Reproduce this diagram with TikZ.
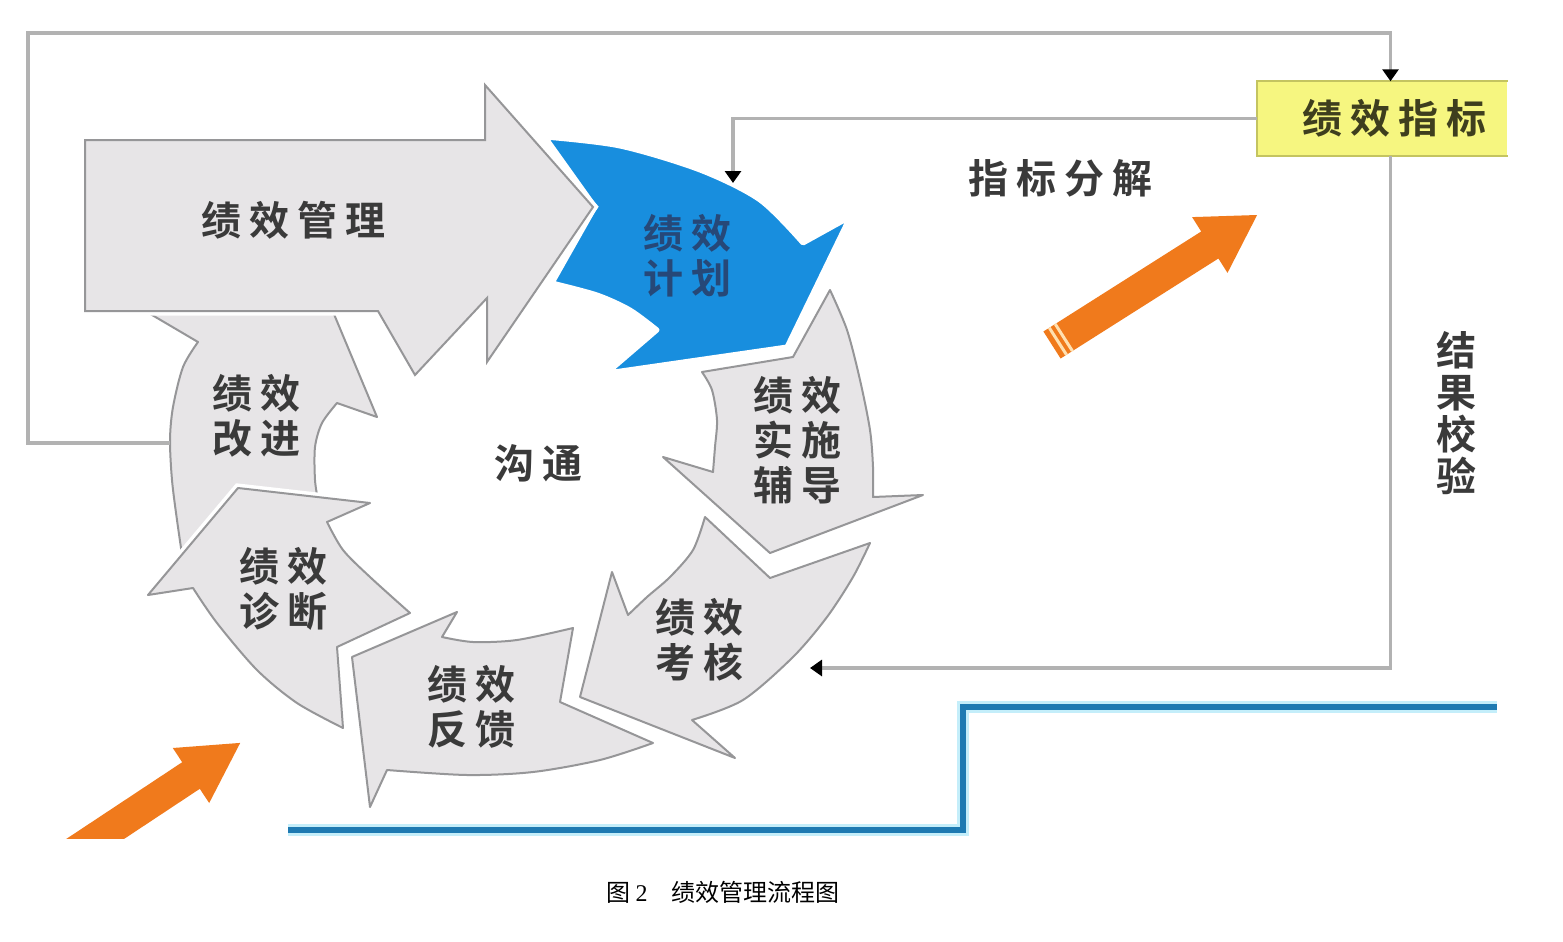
\documentclass[tikz,border=0pt]{standalone}
\usepackage{fontspec}
\usetikzlibrary{arrows.meta}
\newfontfamily\cjkbold[LetterSpace=20]{Noto Sans CJK SC Bold}
\newfontfamily\cjkplain{Noto Sans CJK SC}
\newfontfamily\capserif{Liberation Serif}

\definecolor{ringfill}{RGB}{231,229,231}
\definecolor{ringline}{RGB}{150,150,152}
\definecolor{planblue}{RGB}{24,142,222}
\definecolor{plantext}{RGB}{38,72,120}
\definecolor{lbltext}{RGB}{58,58,58}
\definecolor{linkgray}{RGB}{178,178,178}
\definecolor{kpifill}{RGB}{246,246,128}
\definecolor{kpiline}{RGB}{196,196,96}
\definecolor{kpitext}{RGB}{62,62,30}
\definecolor{arroworange}{RGB}{240,122,28}
\definecolor{stripeorange}{RGB}{255,224,176}
\definecolor{stepblue}{RGB}{30,122,178}
\definecolor{stepglow}{RGB}{196,238,250}

\tikzset{every picture/.style={line width=0.75pt}}
\tikzset{
  ringarrow/.style={fill=ringfill,draw=ringline,line width=1pt,line join=round,
    preaction={draw=white,line width=4.5pt}},
  planarrow/.style={fill=planblue,draw=white,line width=2.5pt,line join=round},
  lbl/.style={inner sep=0pt,align=center,text=lbltext,
    font=\cjkbold\fontsize{20}{22.5}\selectfont},
  link/.style={draw=linkgray,line width=1.6pt,
    -{Triangle[width=8pt,length=6pt,color=black]}},
  orangearrow/.style={fill=arroworange},
  stripe/.style={draw=stripeorange,line width=1.5pt},
  stepline/.style={draw=stepblue,line width=3pt,preaction={draw=stepglow,line width=6pt}},
  kpibox/.style={fill=kpifill,inner sep=0pt,
    minimum width=124.5pt,minimum height=36.5pt,text=kpitext,
    font=\cjkbold\fontsize{20}{22.5}\selectfont},
  kpiedge/.style={draw=kpiline,line width=1.2pt}
}

\begin{document}
\begin{tikzpicture}[x=0.5pt,y=0.5pt,yscale=-1,xscale=1]
%set diagram size 1563 x 942
\useasboundingbox (0,0) rectangle (1563,942);
\fill[white] (0,0) rectangle (1563,942);

%Step Line [id:step]
\draw[stepline] (288,830) -- (963,830) -- (963,707) -- (1497,707);

%Curve Arrow [id:impr]
\draw[ringarrow] (303,240) -- (147,312) -- (198,342)
  -- plot[smooth] coordinates {(198,342) (183,367) (173,407) (170,440) (172,480) (177,520) (185,575)}
  -- (262,518) -- (318,500)
  -- plot[smooth] coordinates {(318,500) (315,480) (315,447) (322,423) (337,403)}
  -- (377,417) -- cycle;
%Curve Arrow [id:diag]
\draw[ringarrow] (238,488) -- (148,595) -- (193,588)
  -- plot[smooth] coordinates {(193,588) (217,623) (257,670) (297,703) (343,728)}
  -- (337,647) -- (410,613)
  -- plot[smooth] coordinates {(410,613) (370,577) (343,550) (327,522)}
  -- (370,503) -- cycle;
%Curve Arrow [id:fb]
\draw[ringarrow] (352,657) -- (457,612) -- (442,637)
  -- plot[smooth] coordinates {(442,637) (473,642) (517,640) (573,628)}
  -- (560,702) -- (653,743)
  -- plot[smooth] coordinates {(653,743) (600,760) (533,772) (467,775) (387,770)}
  -- (370,807) -- cycle;
%Curve Arrow [id:exam]
\draw[ringarrow] (580,697) -- (612,572) -- (628,615)
  -- plot[smooth] coordinates {(628,615) (647,597) (670,577) (693,550) (705,517)}
  -- (770,578) -- (870,543)
  -- plot[smooth] coordinates {(870,543) (853,577) (827,617) (793,657) (743,700) (692,720)}
  -- (735,758) -- cycle;
%Curve Arrow [id:exec]
\draw[ringarrow] (770,553) -- (923,495) -- (873,497)
  -- plot[smooth] coordinates {(873,497) (873,467) (870,430) (860,380) (847,330) (830,290)}
  -- (793,357) -- (702,372)
  -- plot[smooth] coordinates {(702,372) (712,390) (717,420) (715,447) (713,472)}
  -- (663,457) -- cycle;
%Curve Arrow [id:plan]
\draw[planarrow] (545,137) -- (595,207) -- (552,283)
  -- plot[smooth] coordinates {(552,283) (597,295) (630,310) (657,330)}
  -- (607,373) -- (787,347) -- (850,217) -- (803,243)
  -- plot[smooth] coordinates {(803,243) (760,200) (700,170) (620,146) (545,137)}
  -- cycle;
%Straight Arrow [id:mgmt]
\draw[ringarrow,line join=miter] (85,140) -- (485,140) -- (485,85) -- (593,207) -- (487,362)
  -- (487,298) -- (415,375) -- (378,311) -- (85,311) -- cycle;

%Block Arrow [id:orange1]
\fill[orangearrow] (1043.4,331.5) -- (1201.2,231.5) -- (1192.1,217.1) -- (1257.1,215)
  -- (1227.5,272.9) -- (1218.4,258.5) -- (1060.6,358.5) -- cycle;
\draw[stripe] (1066.5,354.8) -- (1049.3,327.8);
\draw[stripe] (1072.4,351.0) -- (1055.2,324.0);
%Block Arrow [id:orange2]
\begin{scope}
\clip (0,0) rectangle (1563,838);
\fill[orangearrow] (39.6,856.6) -- (182.2,762.2) -- (172.8,748.0) -- (240.2,742.9)
  -- (209.2,803.0) -- (199.8,788.8) -- (57.2,883.2) -- cycle;
\end{scope}

% Text Node
\draw (293,220) node [lbl] (mgmtlbl) {绩效管理};
% Text Node
\draw (687,256) node [lbl,text=plantext] (planlbl) {绩效\\计划};
% Text Node
\draw (797,440) node [lbl] (execlbl) {绩效\\实施\\辅导};
% Text Node
\draw (699,640) node [lbl] (examlbl) {绩效\\考核};
% Text Node
\draw (471,707) node [lbl] (fblbl) {绩效\\反馈};
% Text Node
\draw (283,589) node [lbl] (diaglbl) {绩效\\诊断};
% Text Node
\draw (256,416) node [lbl] (impllbl) {绩效\\改进};
% Text Node
\draw (538,463) node [lbl] (commlbl) {沟通};
% Text Node
\draw (1060,178) node [lbl] (splitlbl) {指标分解};
% Text Node
\draw (1456,413) node [lbl,font=\cjkbold\fontsize{20}{21}\selectfont] (checklbl) {结\\果\\校\\验};
% Text Node
\draw (1382.5,118.5) node [kpibox] (kpi) {\hspace*{12pt}绩效指标};
\draw[kpiedge] (kpi.north east) -- (kpi.north west) -- (kpi.south west) -- (kpi.south east);
% Text Node
\draw (723,892) node [inner sep=0pt,font=\cjkplain\fontsize{12}{14}\selectfont] (caption)
  {图 {\capserif 2}\quad 绩效管理流程图};

%Connector ends
\coordinate (impedge) at (170,443);
\coordinate (plantop) at (733,183);
\coordinate (examside) at (810,668);

%Straight Lines [id:loop]
\draw[link] (impedge) -| (28,33) -| ([xshift=4pt]kpi.north);
%Straight Lines [id:split]
\draw[link] (kpi.west) -| (plantop);
%Straight Lines [id:check]
\draw[link] ([xshift=4pt]kpi.south) |- (examside);
\end{tikzpicture}
\end{document}
